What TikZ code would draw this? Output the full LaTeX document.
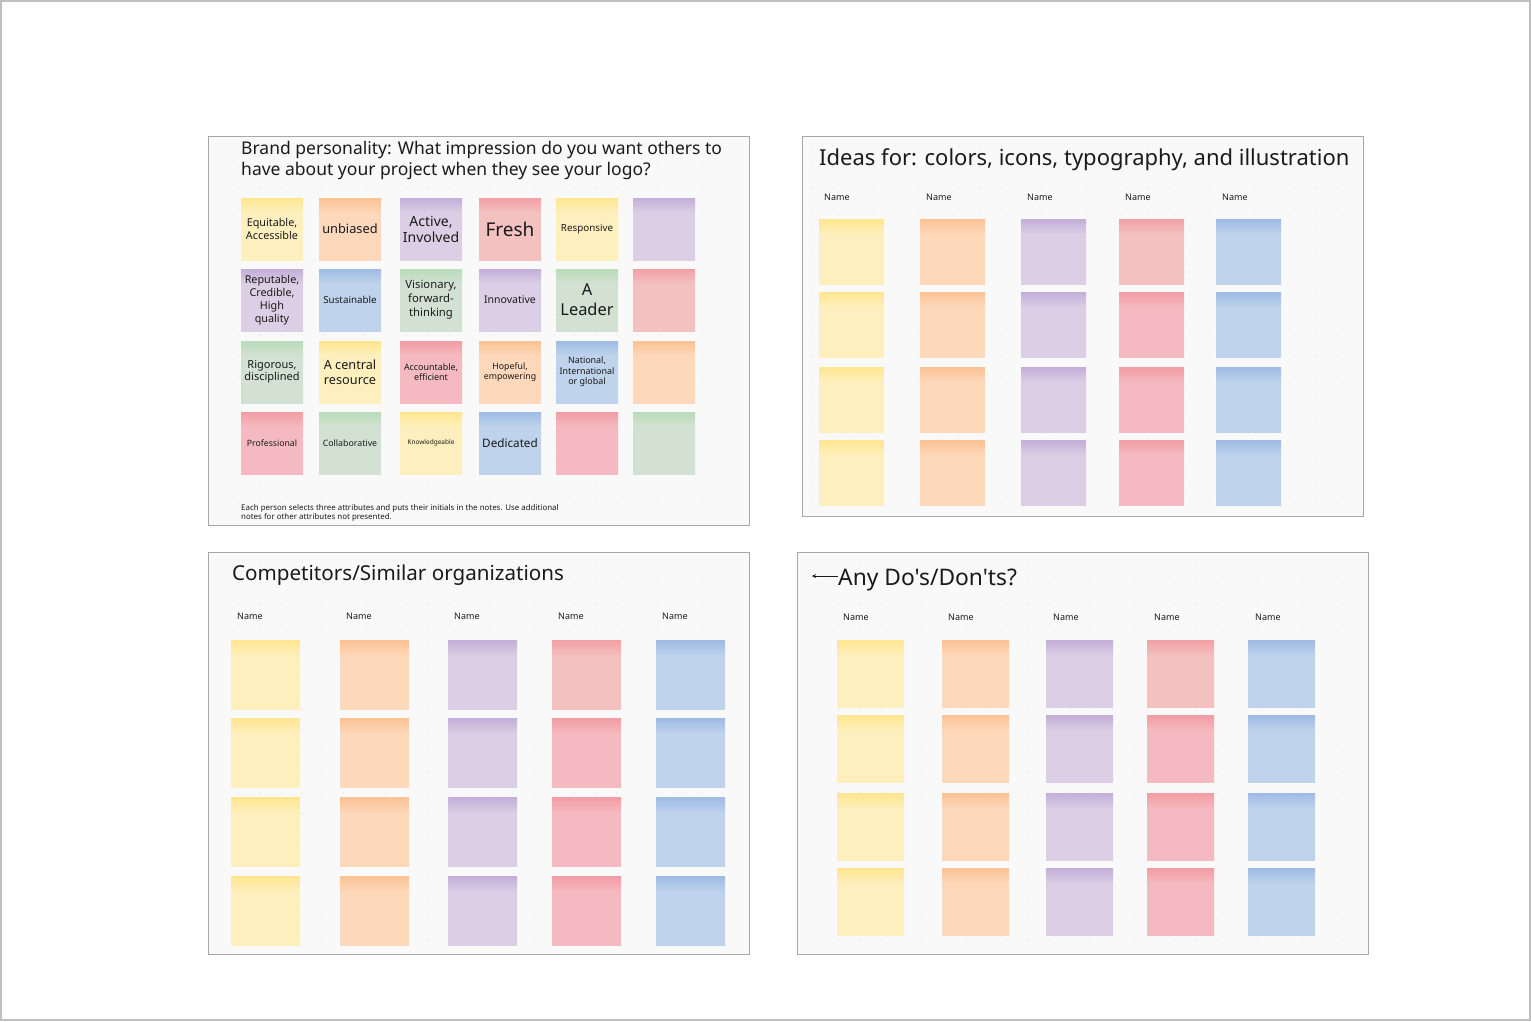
\documentclass[tikz,border=0pt]{standalone}
\usepackage{fontspec}
\setmainfont{Noto Sans}
\newfontfamily\dosfont[Ligatures=TeXOff]{Noto Sans}
\usetikzlibrary{shadows,arrows.meta}
\definecolor{ybody}{HTML}{FEF0BE}\definecolor{ytop}{HTML}{FFE690}
\definecolor{obody}{HTML}{FDD8BB}\definecolor{otop}{HTML}{FBC294}
\definecolor{pbody}{HTML}{DCCFE5}\definecolor{ptop}{HTML}{C3AED8}
\definecolor{rbody}{HTML}{F5BAC1}\definecolor{rtop}{HTML}{F29CA3}
\definecolor{sbody}{HTML}{F4C1C1}\definecolor{stop}{HTML}{F2A0A4}
\definecolor{bbody}{HTML}{BFD3EC}\definecolor{btop}{HTML}{9FBBE4}
\definecolor{gbody}{HTML}{D3E1D3}\definecolor{gtop}{HTML}{B9DCB9}
\definecolor{panelfill}{HTML}{F9F9F9}
\definecolor{panelline}{HTML}{A8A8A8}
\definecolor{dotc}{HTML}{D8D8D8}
\definecolor{ink}{HTML}{1A1A1A}
\pgfdeclareverticalshading{shY}{100bp}{color(0bp)=(ybody); color(25bp)=(ybody); color(63bp)=(ybody); color(75bp)=(ytop); color(100bp)=(ytop)}
\pgfdeclareverticalshading{shO}{100bp}{color(0bp)=(obody); color(25bp)=(obody); color(63bp)=(obody); color(75bp)=(otop); color(100bp)=(otop)}
\pgfdeclareverticalshading{shP}{100bp}{color(0bp)=(pbody); color(25bp)=(pbody); color(63bp)=(pbody); color(75bp)=(ptop); color(100bp)=(ptop)}
\pgfdeclareverticalshading{shR}{100bp}{color(0bp)=(rbody); color(25bp)=(rbody); color(63bp)=(rbody); color(75bp)=(rtop); color(100bp)=(rtop)}
\pgfdeclareverticalshading{shS}{100bp}{color(0bp)=(sbody); color(25bp)=(sbody); color(63bp)=(sbody); color(75bp)=(stop); color(100bp)=(stop)}
\pgfdeclareverticalshading{shB}{100bp}{color(0bp)=(bbody); color(25bp)=(bbody); color(63bp)=(bbody); color(75bp)=(btop); color(100bp)=(btop)}
\pgfdeclareverticalshading{shG}{100bp}{color(0bp)=(gbody); color(25bp)=(gbody); color(63bp)=(gbody); color(75bp)=(gtop); color(100bp)=(gtop)}
\newcommand\fsz[2]{\fontsize{#1}{#2}\selectfont}
\newcommand\stk[8]{\node[stickynote=#6, minimum width=#4pt, minimum height=#5pt, font=#8] (#1) at ({#2+#4/2},{#3+#5/2}) {#7};}
\tikzset{
  stickynote/.style={shade, shading=sh#1, draw=none, inner sep=1pt, align=center, text=ink,
    drop shadow={opacity=0.22, shadow xshift=0pt, shadow yshift=-1.3pt}},
  panel/.style={fill=panelfill, draw=panelline, line width=1pt},
  namelbl/.style={anchor=base west, inner sep=0pt, font=\fsz{9}{11}, text=ink},
  titlelbl/.style={anchor=base west, inner sep=0pt, text=ink},
}
\begin{document}
\begin{tikzpicture}[x=1pt,y=-1pt]
\useasboundingbox (0,0) rectangle (1531,1021);
\fill[white] (0,0) rectangle (1531,1021);
\draw[draw=black!25, line width=2pt] (1,1) rectangle (1530,1020);
% panels
\draw[panel] (208,136) rectangle (749,525);
\draw[panel] (802,136) rectangle (1363,516);
\draw[panel] (208,552) rectangle (749,954);
\draw[panel] (797,552) rectangle (1368,954);
% dot grids
\foreach \px in {218,239,...,740} \foreach \py in {146,167,...,516} \fill[dotc] (\px,\py) circle (0.7);
\foreach \px in {812,833,...,1355} \foreach \py in {146,167,...,508} \fill[dotc] (\px,\py) circle (0.7);
\foreach \px in {218,239,...,740} \foreach \py in {562,583,...,946} \fill[dotc] (\px,\py) circle (0.7);
\foreach \px in {818,839,...,1360} \foreach \py in {562,583,...,946} \fill[dotc] (\px,\py) circle (0.7);

% ---------- Brand personality panel ----------
\node[titlelbl, font=\fsz{17.5}{21}] (brandA) at (241,154) {Brand personality: What impression do you want others to};
\node[titlelbl, font=\fsz{17.5}{21}] (brandB) at (241,175) {have about your project when they see your logo?};
% row 1
\stk{b11}{241}{198}{62}{62}{Y}{Equitable,\\Accessible}{\fsz{10.8}{13}}
\stk{b12}{319}{198}{62}{62}{O}{unbiased}{\fsz{12.8}{15}}
\stk{b13}{400}{198}{62}{62}{P}{Active,\\Involved}{\fsz{14}{16}}
\stk{b14}{479}{198}{62}{62}{S}{Fresh}{\fsz{19}{22}}
\stk{b15}{556}{198}{62}{62}{Y}{Responsive}{\fsz{9.8}{12}}
\stk{b16}{633}{198}{62}{62}{P}{}{\fsz{10}{12}}
% row 2
\stk{b21}{241}{269}{62}{62}{P}{Reputable,\\Credible,\\High\\quality}{\fsz{10.8}{13}}
\stk{b22}{319}{269}{62}{62}{B}{Sustainable}{\fsz{9.8}{12}}
\stk{b23}{400}{269}{62}{62}{G}{Visionary,\\forward-\\thinking}{\fsz{11.3}{14}}
\stk{b24}{479}{269}{62}{62}{P}{Innovative}{\fsz{10.5}{12}}
\stk{b25}{556}{269}{62}{62}{G}{A\\Leader}{\fsz{16.4}{20}}
\stk{b26}{633}{269}{62}{62}{S}{}{\fsz{10}{12}}
% row 3
\stk{b31}{241}{341}{62}{62}{G}{Rigorous,\\disciplined}{\fsz{11}{12.5}}
\stk{b32}{319}{341}{62}{62}{Y}{A central\\resource}{\fsz{12.7}{15}}
\stk{b33}{400}{341}{62}{62}{R}{Accountable,\\efficient}{\fsz{8.9}{10.5}}
\stk{b34}{479}{341}{62}{62}{O}{Hopeful,\\empowering}{\fsz{8.8}{10.5}}
\stk{b35}{556}{341}{62}{62}{B}{National,\\International\\or global}{\fsz{8.9}{10.5}}
\stk{b36}{633}{341}{62}{62}{O}{}{\fsz{10}{12}}
% row 4
\stk{b41}{241}{412}{62}{62}{R}{Professional}{\fsz{8.7}{10.5}}
\stk{b42}{319}{412}{62}{62}{G}{Collaborative}{\fsz{8.8}{10.5}}
\stk{b43}{400}{412}{62}{62}{Y}{Knowledgeable}{\fsz{6.5}{8}}
\stk{b44}{479}{412}{62}{62}{B}{Dedicated}{\fsz{11.7}{14}}
\stk{b45}{556}{412}{62}{62}{R}{}{\fsz{10}{12}}
\stk{b46}{633}{412}{62}{62}{G}{}{\fsz{10}{12}}
\node[titlelbl, font=\fsz{7.9}{9}] (noteA) at (241,510.5) {Each person selects three attributes and puts their initials in the notes. Use additional};
\node[titlelbl, font=\fsz{7.9}{9}] (noteB) at (241,519.5) {notes for other attributes not presented.};

% ---------- Ideas panel ----------
\node[titlelbl, font=\fsz{22}{26}] (ideasT) at (819,165.5) {Ideas for: colors, icons, typography, and illustration};
\foreach \x/\c/\nx [count=\i] in {819/Y/824, 920/O/926, 1021/P/1027, 1119/R/1125, 1216/B/1222} {
  \node[namelbl] (ideasN\i) at (\nx,200) {Name};
  \foreach \y [count=\j] in {219,292,367,440} {
    \ifnum\j=1 \ifnum\i=4 \def\cc{S}\else\edef\cc{\c}\fi\else\edef\cc{\c}\fi
    \stk{ideas\i\j}{\x}{\y}{65}{65}{\cc}{}{\fsz{10}{12}} }
}

% ---------- Competitors panel ----------
\node[titlelbl, font=\fsz{20.6}{24}] (compT) at (232,580) {Competitors/Similar organizations};
\foreach \x/\c/\nx [count=\i] in {231/Y/237, 340/O/346, 448/P/454, 552/R/558, 656/B/662} {
  \node[namelbl] (compN\i) at (\nx,619.5) {Name};
  \foreach \y [count=\j] in {640,718,797,876} {
    \ifnum\j=1 \ifnum\i=4 \def\cc{S}\else\edef\cc{\c}\fi\else\edef\cc{\c}\fi
    \stk{comp\i\j}{\x}{\y}{69}{69}{\cc}{}{\fsz{10}{12}} }
}

% ---------- Do's / Don'ts panel ----------
\node[titlelbl, font=\dosfont\fsz{22.8}{26}] (dosT) at (838,585) {Any Do's/Don'ts?};
\coordinate (dosArrowEnd) at (812,576);
\draw[ink, line width=0.8pt, -{Stealth[length=4pt,width=4pt]}] (dosT.west |- dosArrowEnd) -- (dosArrowEnd);
\foreach \x/\c/\nx [count=\i] in {837/Y/843, 942/O/948, 1046/P/1053, 1147/R/1154, 1248/B/1255} {
  \node[namelbl] (dosN\i) at (\nx,620.5) {Name};
  \foreach \y [count=\j] in {640,715,793,868} {
    \ifnum\j=1 \ifnum\i=4 \def\cc{S}\else\edef\cc{\c}\fi\else\edef\cc{\c}\fi
    \stk{dos\i\j}{\x}{\y}{67}{67}{\cc}{}{\fsz{10}{12}} }
}
\end{tikzpicture}
\end{document}
